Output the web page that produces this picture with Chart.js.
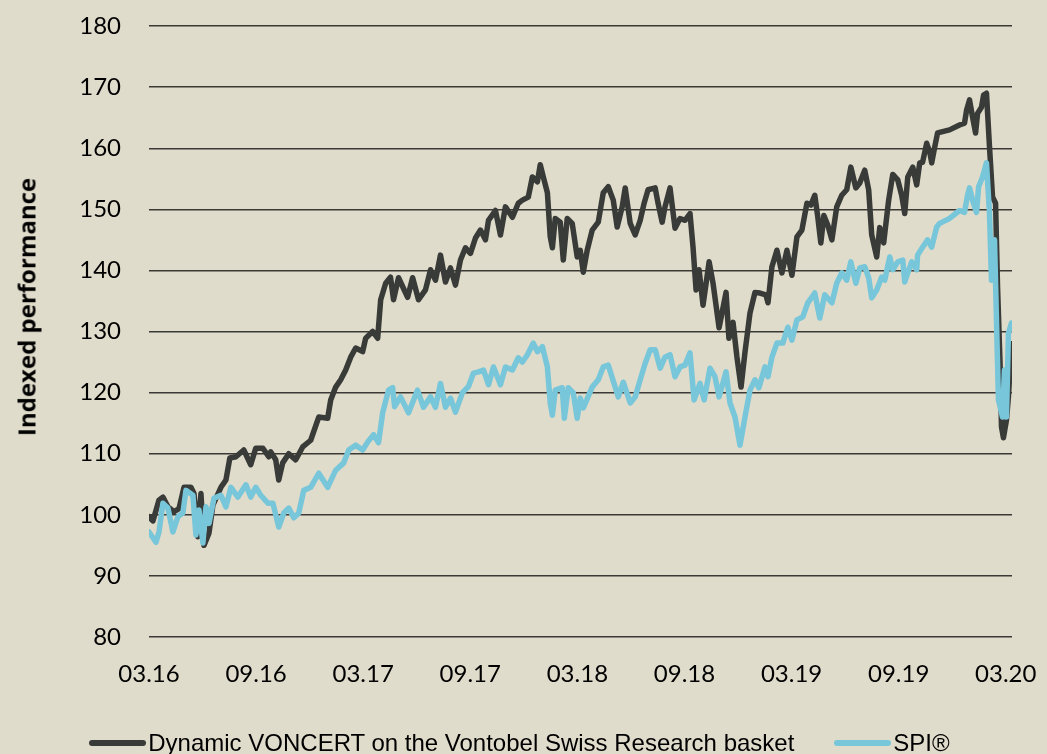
<!DOCTYPE html>
<html>
<head>
<meta charset="utf-8">
<script src="https://cdn.jsdelivr.net/npm/chart.js@4/dist/chart.umd.min.js"></script>
<style>
  body { margin: 0; background: #e0dccb; }
  #wrap { position: relative; width: 1047px; height: 754px; background: #e0dccb; overflow: hidden; }
  #legend { position: absolute; left: -4px; top: 729px; width: 1047px; display: flex; justify-content: center; gap: 40px;
            font-family: 'Liberation Sans', Arial, sans-serif; font-size: 24px; color: #000; white-space: nowrap; }
  #legend .item { display: flex; align-items: center; }
  #legend .box { display: inline-block; width: 57px; height: 6px; border-radius: 3px; margin-right: 2px; }
  #ytitle { position: absolute; left: 26px; top: 307px; transform: translate(-50%, -50%) rotate(-90deg);
            font-family: 'Open Sans', sans-serif; font-weight: bold; font-size: 24px; color: #000; white-space: nowrap; }
</style>
</head>
<body>
<div id="wrap">
  <canvas id="grafico" width="1047" height="754"></canvas>
  <div id="ytitle">Indexed performance</div>
  <div id="legend"></div>
</div>
<script>
// eixo x em meses desde 03.16
const tickLabels = ['03.16', '09.16', '03.17', '09.17', '03.18', '09.18', '03.19', '09.19', '03.20'];
const seriesNames = ['Dynamic VONCERT on the Vontobel Swiss Research basket', 'SPI®'];

const voncertMonths = [0.00, 0.22, 0.56, 0.78, 1.06, 1.40, 1.68, 1.96, 2.35, 2.52, 2.74, 2.91, 3.08, 3.36, 3.58, 4.03, 4.31, 4.53, 4.87, 5.31,
  5.70, 5.98, 6.38, 6.71, 6.82, 7.10, 7.27, 7.49, 7.83, 8.22, 8.61, 9.06, 9.51, 10.01, 10.18, 10.46, 10.74, 11.02, 11.30, 11.58,
  11.97, 12.14, 12.53, 12.81, 12.98, 13.26, 13.53, 13.70, 13.98, 14.49, 14.77, 15.10, 15.49, 15.77, 16.05, 16.33, 16.61, 16.89, 17.17, 17.45,
  17.73, 18.01, 18.29, 18.57, 18.85, 19.02, 19.41, 19.69, 19.97, 20.36, 20.69, 20.92, 21.25, 21.48, 21.76, 21.92, 22.09, 22.32, 22.48, 22.60,
  22.76, 23.04, 23.21, 23.43, 23.71, 23.99, 24.16, 24.33, 24.55, 24.83, 25.17, 25.45, 25.73, 26.01, 26.23, 26.51, 26.68, 26.96, 27.24, 27.52,
  27.74, 27.96, 28.36, 28.52, 28.75, 28.91, 29.19, 29.47, 29.75, 30.03, 30.31, 30.48, 30.65, 30.82, 31.04, 31.38, 31.60, 31.94, 32.33, 32.49,
  32.72, 32.94, 33.17, 33.39, 33.67, 33.95, 34.23, 34.56, 34.68, 34.90, 35.18, 35.46, 35.74, 36.02, 36.30, 36.58, 36.86, 37.08, 37.30, 37.47,
  37.64, 37.81, 38.03, 38.26, 38.53, 38.81, 39.09, 39.32, 39.60, 39.82, 40.10, 40.32, 40.49, 40.77, 40.94, 41.16, 41.44, 41.67, 41.95, 42.17,
  42.34, 42.51, 42.79, 43.01, 43.18, 43.34, 43.57, 43.74, 43.85, 44.02, 44.18, 44.85, 45.41, 45.69, 45.81, 45.97, 46.14, 46.31, 46.42, 46.64,
  46.76, 46.92, 47.09, 47.26, 47.43, 47.54, 47.71, 47.76, 47.87, 48.04, 48.15, 48.32];
const voncertValues = [99.7, 99.0, 102.4, 102.9, 101.3, 100.5, 101.0, 104.5, 104.5, 103.5, 96.4, 103.5, 95.0, 97.0, 101.6, 104.5, 105.7, 109.3, 109.5, 110.6,
  108.2, 110.9, 110.9, 109.5, 110.3, 109.0, 105.7, 108.5, 110.0, 109.0, 111.1, 112.2, 116.0, 115.8, 118.8, 120.9, 122.1, 123.7, 125.8, 127.3,
  126.7, 128.9, 130.0, 128.9, 135.2, 137.9, 138.9, 135.2, 138.8, 135.6, 138.8, 135.2, 136.8, 140.1, 138.4, 142.5, 138.1, 140.4, 137.6, 141.7,
  143.7, 142.8, 145.3, 146.6, 145.0, 148.2, 149.8, 145.8, 150.4, 148.7, 151.0, 151.5, 152.0, 155.3, 154.5, 157.3, 155.3, 152.7, 145.5, 143.7,
  148.5, 147.9, 141.7, 148.5, 147.7, 142.2, 143.3, 139.7, 143.3, 146.6, 147.9, 152.7, 153.7, 151.5, 147.1, 150.4, 153.5, 147.7, 145.8, 148.2,
  151.0, 153.2, 153.5, 151.0, 147.9, 150.4, 153.5, 146.9, 148.5, 148.2, 149.3, 143.8, 136.8, 140.1, 134.3, 141.4, 137.9, 130.6, 136.4, 128.9,
  131.5, 125.8, 120.9, 126.6, 133.0, 136.4, 136.3, 136.0, 134.7, 140.6, 143.3, 139.6, 143.3, 139.2, 145.5, 146.6, 151.0, 150.7, 152.3, 148.7,
  144.5, 149.0, 147.4, 145.0, 150.4, 152.3, 153.2, 156.9, 153.5, 154.3, 156.4, 153.2, 145.8, 142.2, 147.0, 144.5, 151.5, 155.7, 154.8, 152.3,
  149.3, 155.3, 156.9, 154.0, 157.6, 157.7, 160.8, 159.4, 157.6, 160.2, 162.5, 163.0, 163.8, 164.1, 166.3, 167.9, 165.1, 162.5, 165.7, 166.7,
  168.7, 169.0, 160.2, 152.0, 151.0, 137.3, 122.1, 114.4, 112.6, 115.5, 119.3, 128.0];

const spiMonths = [0.00, 0.39, 0.56, 0.78, 1.06, 1.34, 1.62, 1.90, 2.07, 2.46, 2.63, 2.80, 3.02, 3.19, 3.36, 3.64, 4.03, 4.31, 4.59, 4.98,
  5.43, 5.70, 5.98, 6.26, 6.66, 6.94, 7.27, 7.55, 7.83, 8.11, 8.39, 8.67, 9.06, 9.51, 10.01, 10.46, 10.91, 11.19, 11.58, 11.97,
  12.25, 12.58, 12.86, 13.09, 13.42, 13.65, 13.76, 14.09, 14.54, 15.04, 15.38, 15.77, 16.05, 16.33, 16.61, 16.89, 17.17, 17.56, 17.90, 18.18,
  18.46, 18.74, 19.02, 19.30, 19.69, 19.97, 20.36, 20.69, 20.92, 21.20, 21.53, 21.76, 22.04, 22.32, 22.48, 22.60, 22.76, 23.15, 23.27, 23.49,
  23.77, 23.99, 24.16, 24.33, 24.83, 25.17, 25.45, 25.73, 26.12, 26.29, 26.57, 26.96, 27.24, 27.52, 27.80, 28.08, 28.36, 28.64, 28.91, 29.19,
  29.47, 29.75, 30.03, 30.31, 30.54, 30.87, 31.10, 31.43, 31.71, 31.94, 32.33, 32.55, 32.83, 33.11, 33.39, 33.67, 33.95, 34.17, 34.51, 34.68,
  34.90, 35.18, 35.51, 35.79, 36.02, 36.30, 36.63, 36.91, 37.30, 37.58, 37.86, 38.26, 38.53, 38.81, 39.09, 39.32, 39.60, 39.82, 40.10, 40.32,
  40.49, 40.77, 41.05, 41.22, 41.50, 41.67, 41.95, 42.23, 42.34, 42.51, 42.73, 43.01, 43.06, 43.34, 43.62, 43.85, 44.13, 44.30, 44.85, 45.41,
  45.69, 45.86, 45.97, 46.14, 46.36, 46.48, 46.70, 46.92, 47.09, 47.20, 47.37, 47.48, 47.59, 47.82, 47.93, 48.04, 48.15, 48.32];
const spiValues = [97.2, 95.5, 97.2, 101.9, 101.1, 97.2, 99.7, 100.3, 104.0, 103.2, 96.7, 100.8, 95.4, 101.3, 98.6, 102.7, 103.2, 101.3, 104.5, 102.9,
  104.9, 102.9, 104.5, 103.2, 101.9, 101.9, 98.0, 100.3, 101.1, 99.5, 100.3, 104.0, 104.5, 106.8, 104.5, 107.3, 108.5, 110.6, 111.4, 110.6,
  111.9, 113.1, 111.8, 116.7, 120.4, 120.8, 117.7, 119.3, 116.7, 120.4, 117.6, 119.3, 117.6, 121.5, 117.6, 119.1, 116.8, 120.0, 121.0, 123.2,
  123.4, 123.7, 121.3, 124.2, 121.3, 124.2, 123.7, 125.7, 125.0, 126.2, 128.1, 126.7, 127.5, 124.2, 118.3, 116.3, 120.4, 120.8, 115.8, 120.8,
  120.0, 115.8, 119.1, 117.5, 120.9, 122.1, 124.2, 124.5, 120.9, 119.3, 121.7, 118.3, 119.3, 122.1, 124.8, 127.0, 127.0, 124.0, 125.8, 126.2,
  122.6, 124.2, 124.5, 126.5, 118.8, 121.5, 118.8, 124.0, 122.6, 119.3, 123.4, 118.3, 116.0, 111.4, 116.0, 120.4, 122.1, 120.8, 124.2, 122.6,
  125.8, 128.1, 128.1, 130.7, 128.6, 131.9, 132.4, 134.7, 136.3, 132.2, 136.0, 134.7, 137.9, 139.6, 138.4, 141.4, 137.9, 140.4, 140.6, 138.8,
  135.5, 136.8, 138.9, 138.4, 142.2, 140.1, 141.4, 141.7, 138.1, 139.6, 141.4, 140.1, 142.5, 143.8, 145.0, 143.8, 147.1, 147.7, 148.5, 149.8,
  149.5, 152.3, 153.5, 151.5, 149.5, 153.7, 155.3, 157.6, 149.3, 138.4, 145.0, 131.9, 118.8, 116.0, 123.7, 116.0, 129.7, 131.4];

const cores = ['#393b39', '#78c6d9'];

const pares = (xs, ys) => xs.map((x, i) => ({ x: x, y: ys[i] }));

const ctx = document.getElementById('grafico').getContext('2d');
const grafico = new Chart(ctx, {
  type: 'line',
  data: {
    datasets: [
      {
        label: seriesNames[0],
        data: pares(voncertMonths, voncertValues),
        borderColor: cores[0],
        backgroundColor: cores[0],
        borderWidth: 5.5,
        order: 2
      },
      {
        label: seriesNames[1],
        data: pares(spiMonths, spiValues),
        borderColor: cores[1],
        backgroundColor: cores[1],
        borderWidth: 5.5,
        order: 1
      }
    ]
  },
  options: {
    responsive: false,
    animation: false,
    layout: { padding: { top: 26, right: 35, bottom: 0, left: 0 } },
    elements: {
      point: { radius: 0 },
      line: { tension: 0, borderJoinStyle: 'round', borderCapStyle: 'round' }
    },
    plugins: {
      legend: { display: false },
      tooltip: { enabled: false }
    },
    scales: {
      x: {
        type: 'linear',
        min: 0,
        max: 48.35,
        afterFit: (scale) => { scale.height = 117; },
        // distância dos rótulos via tickLength (o padding dos ticks empurra a área do gráfico)
        grid: { color: 'transparent', drawTicks: true, tickLength: 23, tickColor: 'transparent' },
        border: { display: false },
        ticks: {
          stepSize: 6,
          includeBounds: false,
          maxRotation: 0,
          autoSkip: false,
          padding: 0,
          color: '#000',
          font: { family: 'Lato', size: 24 },
          callback: (v) => (v % 6 === 0 ? tickLabels[v / 6] : '')
        }
      },
      y: {
        min: 80,
        max: 180,
        afterFit: (scale) => { scale.width = 149; },
        grid: { color: '#3a3935', lineWidth: 1.4, drawTicks: true, tickLength: 28, tickColor: 'transparent' },
        border: { display: false },
        ticks: {
          stepSize: 10,
          padding: 0,
          color: '#000',
          font: { family: 'Lato', size: 24 }
        }
      }
    }
  }
});

// legenda em HTML
const legenda = document.getElementById('legend');
grafico.data.datasets.forEach((ds) => {
  const item = document.createElement('span');
  item.className = 'item';
  const box = document.createElement('span');
  box.className = 'box';
  box.style.background = ds.borderColor;
  item.appendChild(box);
  item.appendChild(document.createTextNode(ds.label));
  legenda.appendChild(item);
});
</script>
</body>
</html>
